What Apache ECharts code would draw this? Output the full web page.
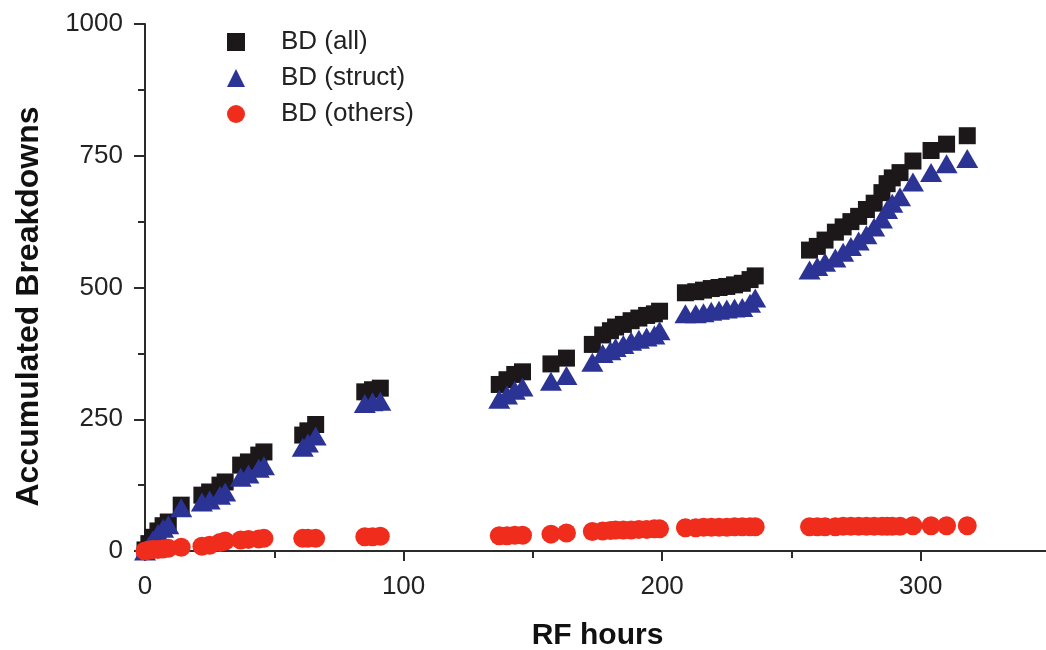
<!DOCTYPE html>
<html>
<head>
<meta charset="utf-8">
<script src="https://cdn.jsdelivr.net/npm/echarts@6/dist/echarts.min.js"></script>
<style>
  html, body { margin: 0; padding: 0; background: #ffffff; }
  #chart { width: 1046px; height: 650px; }
</style>
</head>
<body>
<div id="chart"></div>
<script>
// RF hours at which the breakdown counts were logged
const rfHours = [
  0, 1.5, 3, 5, 7, 9,
  14,
  22, 25, 29, 31,
  37, 40, 44, 46,
  61, 63, 66,
  85, 88, 91,
  137, 140, 143, 146,
  157, 163,
  173, 177, 180, 182, 185, 188, 191, 194, 197, 199,
  209, 213, 216, 219, 222, 225, 228, 231, 234, 236,
  257, 260, 263, 267, 270, 273, 276, 279, 282, 285, 287, 289, 292, 297, 304, 310, 318
];

// Accumulated breakdowns, all types
const bdAll = [
  2, 14, 26, 38, 48, 55,
  87,
  106, 112, 125, 131,
  163, 169, 182, 188,
  220, 228, 240,
  302, 306, 309,
  316, 325, 335, 340,
  355, 366,
  392, 410, 418, 425, 430, 437, 442, 447, 450, 455,
  490, 492, 495, 498, 500, 502, 505, 508, 515, 522,
  571, 578, 590, 605, 615, 625, 635, 648, 660, 680, 697, 708, 718, 740, 760, 772, 788
];

// Accumulated breakdowns in the structure
const bdStruct = [
  0, 10, 21, 33, 43, 50,
  82,
  93, 97, 106, 112,
  140, 146, 157, 162,
  197, 205, 218,
  280, 283, 284,
  288, 296, 305, 311,
  322, 333,
  358, 375, 380, 386, 392, 398, 402, 406, 410, 418,
  450, 450, 452, 455, 457, 459, 461, 462, 470, 480,
  533, 540, 548, 556, 567, 578, 588, 600, 615, 630, 648, 660, 672, 700, 718, 735, 745
];

// Accumulated breakdowns elsewhere
const bdOthers = [
  0, 2, 3, 3, 4, 5,
  7,
  9, 11, 16, 19,
  21, 22, 23, 24,
  24, 24, 24,
  27, 27, 28,
  29, 29, 30, 30,
  32, 34,
  37, 38, 39, 40, 40, 40, 41, 41, 42, 42,
  44, 44, 45, 45, 45, 45, 46, 46, 46, 46,
  46, 46, 46, 46, 47, 47, 47, 47, 47, 47, 47, 47, 47, 48, 48, 48, 48
];

const seriesNames = ['BD (all)', 'BD (struct)', 'BD (others)'];
const xTicks = { min: 0, max: 350, interval: 100 };
const yTicks = { min: 0, max: 1000, interval: 250 };

const pairs = (ys) => rfHours.map((x, i) => [x, ys[i]]);

const font = '"Liberation Sans", Arial, sans-serif';
const axisColor = '#2b2b2b';

const chart = echarts.init(document.getElementById('chart'), null, { renderer: 'canvas' });

chart.setOption({
  backgroundColor: '#ffffff',
  animation: false,
  grid: { left: 145, right: -4, top: 24, bottom: 99, containLabel: false, outerBoundsMode: 'none' },
  legend: {
    orient: 'vertical',
    left: 222,
    top: 24,
    itemWidth: 18,
    itemHeight: 18,
    itemGap: 10,
    data: seriesNames,
    textStyle: { fontFamily: font, fontSize: 26, color: '#222', padding: [0, 0, 0, 31] }
  },
  xAxis: {
    type: 'value',
    min: xTicks.min,
    max: xTicks.max,
    interval: xTicks.interval,
    name: 'RF hours',
    nameLocation: 'middle',
    nameGap: 70,
    nameTextStyle: { fontFamily: font, fontSize: 30, fontWeight: 'bold', color: '#111' },
    axisLine: { show: true, onZero: false, lineStyle: { color: axisColor, width: 2 } },
    axisTick: { show: true, inside: false, length: 10, lineStyle: { color: axisColor, width: 2 } },
    minorTick: { show: true, splitNumber: 2, length: 7, lineStyle: { color: axisColor, width: 2 } },
    splitLine: { show: false },
    axisLabel: { fontFamily: font, fontSize: 26, color: '#222', margin: 23, showMaxLabel: false }
  },
  yAxis: {
    type: 'value',
    min: yTicks.min,
    max: yTicks.max,
    interval: yTicks.interval,
    name: 'Accumulated Breakdowns',
    nameLocation: 'middle',
    nameGap: 100,
    nameRotate: 90,
    nameTextStyle: { fontFamily: font, fontSize: 32, fontWeight: 'bold', color: '#111', padding: [0, 38, 0, 0] },
    axisLine: { show: true, onZero: false, lineStyle: { color: axisColor, width: 2 } },
    axisTick: { show: true, inside: false, length: 11, lineStyle: { color: axisColor, width: 2 } },
    minorTick: { show: true, splitNumber: 2, length: 7, lineStyle: { color: axisColor, width: 2 } },
    splitLine: { show: false },
    axisLabel: { fontFamily: font, fontSize: 26, color: '#222', margin: 22, formatter: (v) => String(v) }
  },
  series: [
    {
      name: seriesNames[0],
      type: 'scatter',
      symbol: 'rect',
      symbolSize: 17,
      itemStyle: { color: '#1c1719', opacity: 1 },
      data: pairs(bdAll),
      z: 2
    },
    {
      name: seriesNames[1],
      type: 'scatter',
      symbol: 'triangle',
      symbolSize: [22, 19],
      itemStyle: { color: '#2b3394', opacity: 1 },
      data: pairs(bdStruct),
      z: 3
    },
    {
      name: seriesNames[2],
      type: 'scatter',
      symbol: 'circle',
      symbolSize: 19,
      itemStyle: { color: '#f02d1c', opacity: 1 },
      data: pairs(bdOthers),
      z: 4
    }
  ]
});
</script>
</body>
</html>
